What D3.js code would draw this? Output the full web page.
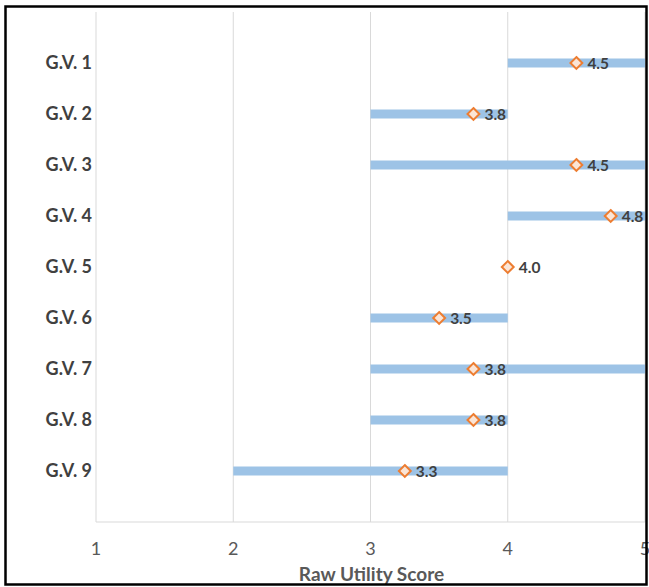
<!DOCTYPE html>
<html><head><meta charset="utf-8">
<script src="https://cdn.jsdelivr.net/npm/d3@7"></script>
<style>body{margin:0;background:#fff;} svg{display:block;}</style>
</head><body>
<script>
const categories = ["G.V. 1","G.V. 2","G.V. 3","G.V. 4","G.V. 5","G.V. 6","G.V. 7","G.V. 8","G.V. 9"];
const rangeLow  = [4, 3, 3, 4, null, 3, 3, 3, 2];
const rangeHigh = [5, 4, 5, 5, null, 4, 5, 4, 4];
const scores    = [4.5, 3.75, 4.5, 4.75, 4.0, 3.5, 3.75, 3.75, 3.25];
const scoreLabels = ["4.5","3.8","4.5","4.8","4.0","3.5","3.8","3.8","3.3"];
const xTicks = [1,2,3,4,5];
const xTitle = "Raw Utility Score";

const W = 649, H = 587;
const svg = d3.select("body").append("svg").attr("width", W).attr("height", H);
const font = "Lato, 'Open Sans', sans-serif";

const x = d3.scaleLinear().domain([1,5]).range([96,645]);
const y = d3.scaleLinear().domain([0,10]).range([12,522]);

// gridlines
svg.append("g").selectAll("line").data(xTicks).join("line")
  .attr("x1", d=>x(d)).attr("x2", d=>x(d)).attr("y1", y(0)).attr("y2", y(10))
  .attr("stroke", "#d9d9d9").attr("stroke-width", 1);

// bottom axis line
svg.append("line").attr("x1", x(1)).attr("x2", x(5)).attr("y1", y(10)).attr("y2", y(10))
  .attr("stroke", "#d9d9d9").attr("stroke-width", 1.2);

// x tick labels
svg.append("g").selectAll("text").data(xTicks).join("text")
  .attr("x", d=>x(d)).attr("y", 555).attr("text-anchor","middle")
  .attr("font-family", font).attr("font-size", 18).attr("fill", "#595959")
  .text(d=>d);

svg.append("text").attr("x", x(3)+1).attr("y", 581).attr("text-anchor","middle")
  .attr("font-family", font).attr("font-size", 19).attr("font-weight","bold").attr("fill","#595959")
  .text(xTitle);

const rows = categories.map((c,i)=>({c, i:i+1, lo:rangeLow[i], hi:rangeHigh[i], v:scores[i], lab:scoreLabels[i]}));

// category labels
svg.append("g").selectAll("text").data(rows).join("text")
  .attr("x", 92).attr("y", d=>y(d.i)).attr("dy","0.35em").attr("text-anchor","end")
  .attr("font-family", font).attr("font-size", 18).attr("font-weight","bold").attr("fill","#404040")
  .text(d=>d.c);

// range bars
svg.append("g").selectAll("rect").data(rows.filter(d=>d.lo!=null)).join("rect")
  .attr("x", d=>x(d.lo)).attr("width", d=>x(d.hi)-x(d.lo))
  .attr("y", d=>y(d.i)-4.5).attr("height", 9)
  .attr("fill", "#9dc3e6");

// diamonds
const sym = d3.symbol().type(d3.symbolDiamond2).size(90);
svg.append("g").selectAll("path").data(rows).join("path")
  .attr("d", sym).attr("transform", d=>`translate(${x(d.v)},${y(d.i)})`)
  .attr("fill", "#fbe5d6").attr("stroke", "#ed7d31").attr("stroke-width", 2);

// value labels
svg.append("g").selectAll("text").data(rows).join("text")
  .attr("x", d=>x(d.v)+11).attr("y", d=>y(d.i)+1).attr("dy","0.35em")
  .attr("font-family", font).attr("font-size", 15.5).attr("font-weight","bold").attr("fill","#404040")
  .text(d=>d.lab);

// border
svg.append("rect").attr("x", 5.5).attr("y", 6.5).attr("width", 641).attr("height", 578)
  .attr("fill","none").attr("stroke","#000").attr("stroke-width", 2.5);
</script>
</body></html>
